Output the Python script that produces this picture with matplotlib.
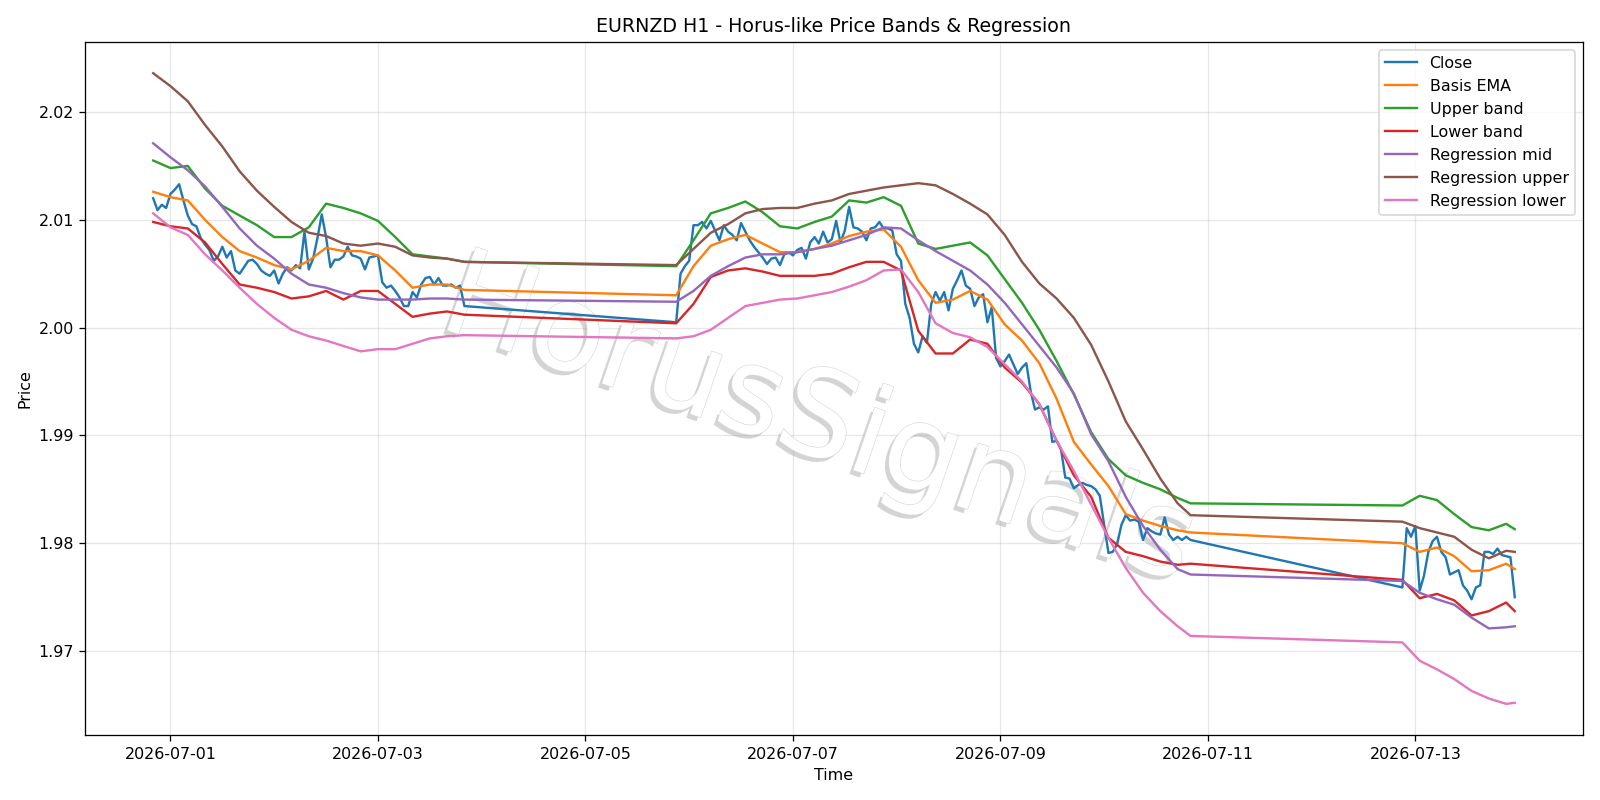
import pandas as pd
import numpy as np
import matplotlib
matplotlib.use("Agg")
import matplotlib.pyplot as plt
import matplotlib.dates as mdates
import matplotlib.patheffects as pe

# ── sessions (hourly bars, weekend gaps) ─────────────────────────────────────
sessions = [("2026-06-30 20:00", "2026-07-03 20:00"),
            ("2026-07-05 21:00", "2026-07-10 20:00"),
            ("2026-07-12 21:00", "2026-07-13 23:00")]

close = [
    # session 1
    2.0120, 2.0109, 2.0114, 2.0111, 2.0124, 2.0128, 2.0133, 2.0118, 2.0104, 2.0096,
    2.0094, 2.0083, 2.0077, 2.0072, 2.0062, 2.0066, 2.0075, 2.0065, 2.0071, 2.0053,
    2.0050, 2.0056, 2.0062, 2.0063, 2.0059, 2.0053, 2.0050, 2.0048, 2.0053, 2.0041,
    2.0050, 2.0056, 2.0053, 2.0058, 2.0055, 2.0089, 2.0054, 2.0064, 2.0083, 2.0105,
    2.0084, 2.0056, 2.0063, 2.0063, 2.0066, 2.0075, 2.0067, 2.0066, 2.0064, 2.0054,
    2.0065, 2.0066, 2.0067, 2.0042, 2.0037, 2.0039, 2.0034, 2.0028, 2.0020, 2.0020,
    2.0033, 2.0028, 2.0040, 2.0046, 2.0047, 2.0040, 2.0046, 2.0039, 2.0039, 2.0040,
    2.0037, 2.0039, 2.0020,
    # session 2
    2.0005, 2.0050, 2.0057, 2.0062, 2.0095, 2.0095, 2.0098, 2.0092, 2.0099, 2.0090,
    2.0081, 2.0095, 2.0089, 2.0086, 2.0081, 2.0097, 2.0089, 2.0081, 2.0075, 2.0070,
    2.0065, 2.0059, 2.0064, 2.0065, 2.0058, 2.0068, 2.0070, 2.0067, 2.0072, 2.0074,
    2.0064, 2.0079, 2.0084, 2.0078, 2.0089, 2.0079, 2.0082, 2.0099, 2.0079, 2.0090,
    2.0112, 2.0093, 2.0092, 2.0089, 2.0081, 2.0092, 2.0093, 2.0098, 2.0092, 2.0092,
    2.0090, 2.0068, 2.0062, 2.0022, 2.0009, 1.9985, 1.9977, 1.9992, 1.9986, 2.0022,
    2.0033, 2.0025, 2.0033, 2.0016, 2.0036, 2.0044, 2.0053, 2.0039, 2.0036, 2.0020,
    2.0028, 2.0031, 2.0005, 2.0019, 1.9972, 1.9964, 1.9969, 1.9975, 1.9966, 1.9957,
    1.9963, 1.9967, 1.9941, 1.9924, 1.9926, 1.9924, 1.9927, 1.9894, 1.9895, 1.9888,
    1.9861, 1.9860, 1.9851, 1.9854, 1.9856, 1.9854, 1.9853, 1.9850, 1.9844, 1.9817,
    1.9791, 1.9792, 1.9799, 1.9817, 1.9826, 1.9821, 1.9822, 1.9820, 1.9803, 1.9814,
    1.9811, 1.9809, 1.9808, 1.9824, 1.9808, 1.9803, 1.9806, 1.9803, 1.9806, 1.9803,
    # session 3
    1.9759, 1.9814, 1.9806, 1.9816, 1.9756, 1.9770, 1.9792, 1.9802, 1.9806, 1.9792,
    1.9787, 1.9771, 1.9773, 1.9775, 1.9761, 1.9756, 1.9748, 1.9759, 1.9761, 1.9792,
    1.9792, 1.9790, 1.9795, 1.9789, 1.9788, 1.9787, 1.9750,
]

# indicator lines, read every 4 bars (plus last bar of each session)
basis_ema = [
    2.0126, 2.0121, 2.0118, 2.0100, 2.0084, 2.0071, 2.0065, 2.0058, 2.0054, 2.0062,
    2.0074, 2.0071, 2.0071, 2.0067, 2.0053, 2.0037, 2.0040, 2.0040, 2.0035,
    2.0030, 2.0057, 2.0076, 2.0082, 2.0086, 2.0078, 2.0070, 2.0070, 2.0073, 2.0078,
    2.0085, 2.0089, 2.0091, 2.0075, 2.0044, 2.0023, 2.0026, 2.0034, 2.0026, 2.0003,
    1.9988, 1.9967, 1.9934, 1.9894, 1.9873, 1.9853, 1.9827, 1.9821, 1.9816, 1.9812,
    1.9810,
    1.9800, 1.9792, 1.9796, 1.9788, 1.9774, 1.9775, 1.9781, 1.9776,
]
upper_band = [
    2.0155, 2.0148, 2.0150, 2.0129, 2.0113, 2.0104, 2.0095, 2.0084, 2.0084, 2.0093,
    2.0115, 2.0111, 2.0106, 2.0099, 2.0084, 2.0068, 2.0066, 2.0064, 2.0061,
    2.0057, 2.0081, 2.0106, 2.0111, 2.0117, 2.0107, 2.0094, 2.0092, 2.0098, 2.0103,
    2.0118, 2.0116, 2.0121, 2.0113, 2.0078, 2.0073, 2.0076, 2.0079, 2.0067, 2.0045,
    2.0023, 1.9998, 1.9969, 1.9938, 1.9903, 1.9878, 1.9863, 1.9856, 1.9850, 1.9842,
    1.9837,
    1.9835, 1.9844, 1.9840, 1.9827, 1.9815, 1.9812, 1.9818, 1.9813,
]
lower_band = [
    2.0098, 2.0094, 2.0092, 2.0079, 2.0059, 2.0040, 2.0037, 2.0033, 2.0027, 2.0029,
    2.0034, 2.0026, 2.0034, 2.0034, 2.0022, 2.0010, 2.0013, 2.0015, 2.0012,
    2.0004, 2.0022, 2.0047, 2.0053, 2.0055, 2.0052, 2.0048, 2.0048, 2.0048, 2.0050,
    2.0056, 2.0061, 2.0061, 2.0053, 1.9997, 1.9976, 1.9976, 1.9989, 1.9985, 1.9963,
    1.9949, 1.9929, 1.9895, 1.9863, 1.9843, 1.9805, 1.9792, 1.9788, 1.9783, 1.9780,
    1.9781,
    1.9766, 1.9749, 1.9753, 1.9747, 1.9733, 1.9737, 1.9745, 1.9737,
]
reg_mid = [
    2.0171, 2.0158, 2.0146, 2.0131, 2.0112, 2.0092, 2.0076, 2.0064, 2.0050, 2.0040,
    2.0037, 2.0032, 2.0028, 2.0026, 2.0026, 2.0026, 2.0027, 2.0027, 2.0026,
    2.0024, 2.0034, 2.0048, 2.0057, 2.0065, 2.0068, 2.0068, 2.0070, 2.0073, 2.0076,
    2.0081, 2.0086, 2.0093, 2.0092, 2.0081, 2.0071, 2.0062, 2.0053, 2.0040, 2.0023,
    2.0003, 1.9983, 1.9963, 1.9939, 1.9901, 1.9876, 1.9843, 1.9816, 1.9794, 1.9776,
    1.9771,
    1.9765, 1.9754, 1.9748, 1.9743, 1.9731, 1.9721, 1.9722, 1.9723,
]
reg_upper = [
    2.0236, 2.0224, 2.0210, 2.0188, 2.0168, 2.0145, 2.0127, 2.0112, 2.0098, 2.0088,
    2.0085, 2.0078, 2.0076, 2.0078, 2.0075, 2.0067, 2.0065, 2.0064, 2.0061,
    2.0058, 2.0073, 2.0088, 2.0096, 2.0106, 2.0110, 2.0111, 2.0111, 2.0115, 2.0118,
    2.0124, 2.0127, 2.0130, 2.0132, 2.0134, 2.0132, 2.0124, 2.0115, 2.0105, 2.0086,
    2.0061, 2.0041, 2.0027, 2.0009, 1.9984, 1.9950, 1.9913, 1.9887, 1.9860, 1.9837,
    1.9826,
    1.9820, 1.9814, 1.9810, 1.9806, 1.9794, 1.9786, 1.9793, 1.9792,
]
reg_lower = [
    2.0106, 2.0093, 2.0086, 2.0068, 2.0053, 2.0037, 2.0022, 2.0009, 1.9998, 1.9992,
    1.9988, 1.9983, 1.9978, 1.9980, 1.9980, 1.9985, 1.9990, 1.9992, 1.9993,
    1.9990, 1.9992, 1.9998, 2.0009, 2.0020, 2.0023, 2.0026, 2.0027, 2.0030, 2.0033,
    2.0038, 2.0044, 2.0053, 2.0054, 2.0033, 2.0004, 1.9995, 1.9991, 1.9982, 1.9966,
    1.9950, 1.9929, 1.9895, 1.9867, 1.9836, 1.9805, 1.9777, 1.9754, 1.9737, 1.9723,
    1.9714,
    1.9708, 1.9691, 1.9683, 1.9674, 1.9663, 1.9656, 1.9651, 1.9652,
]

# ── time axes ────────────────────────────────────────────────────────────────
bars = [pd.date_range(a, b, freq="h") for a, b in sessions]
times = bars[0].append(bars[1:])

def every4(t):
    idx = list(range(0, len(t), 4))
    if idx[-1] != len(t) - 1:
        idx.append(len(t) - 1)
    return t[idx]

times4 = every4(bars[0]).append([every4(b) for b in bars[1:]])

# ── plot ─────────────────────────────────────────────────────────────────────
DPI = 1600 / 14
fig, ax = plt.subplots(figsize=(14, 7), dpi=DPI)

ax.plot(times, close, label="Close", lw=1.5)
ax.plot(times4, basis_ema, label="Basis EMA", lw=1.5)
ax.plot(times4, upper_band, label="Upper band", lw=1.5)
ax.plot(times4, lower_band, label="Lower band", lw=1.5)
ax.plot(times4, reg_mid, label="Regression mid", lw=1.5)
ax.plot(times4, reg_upper, label="Regression upper", lw=1.5)
ax.plot(times4, reg_lower, label="Regression lower", lw=1.5)

# watermark
ax.text(0.49, 0.45, "HorusSignals", transform=ax.transAxes, fontsize=76,
        color="white", rotation=-19, ha="center", va="center", zorder=1.6,
        path_effects=[pe.SimplePatchShadow(offset=(-2.5, -2.5), shadow_rgbFace="#a0a0a0", alpha=0.45),
                      pe.Stroke(linewidth=0.8, foreground="#d8d8d8"),
                      pe.Normal()])

ax.xaxis.set_major_locator(mdates.DayLocator(interval=2))
ax.xaxis.set_major_formatter(mdates.DateFormatter("%Y-%m-%d"))
ax.set_title("EURNZD H1 - Horus-like Price Bands & Regression")
ax.set_xlabel("Time")
ax.set_ylabel("Price")
ax.grid(alpha=0.3)
ax.legend(loc="upper right")

plt.tight_layout()
plt.savefig("out.png", dpi=DPI)
plt.close()
